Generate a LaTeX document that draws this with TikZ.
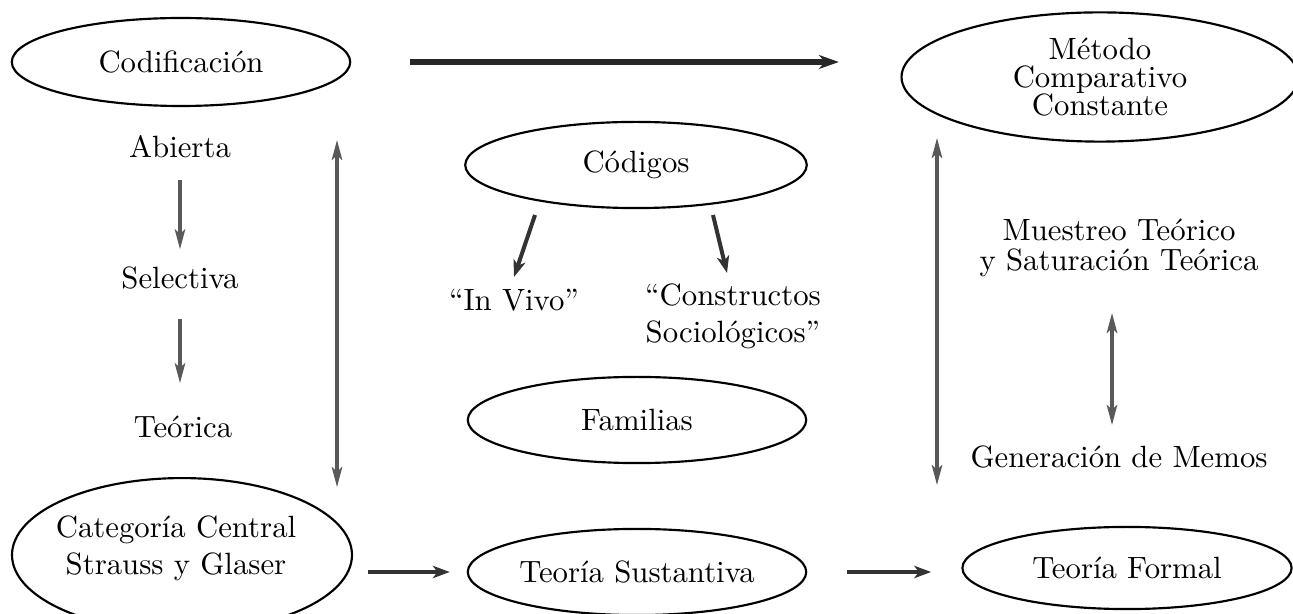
\documentclass[tikz,border=0pt]{standalone}
\usepackage{tikz}
\usetikzlibrary{shapes.geometric}
\usetikzlibrary{arrows.meta}
\tikzset{
    oval/.style={draw=black, line width=0.7pt, ellipse, inner sep=0pt, align=center},
    label/.style={inner sep=0pt, align=center},
    bigarrow/.style={draw=black!85, line width=1.7pt,
        -{Stealth[length=6.5pt, width=4.5pt, inset=2pt]}},
    flatarrow/.style={draw=black!80, line width=1.3pt,
        -{Stealth[length=5.5pt, width=4pt, inset=1.5pt]}},
    greyarrow/.style={draw=black!65, line width=1pt,
        -{Stealth[length=6.5pt, width=3.4pt, inset=1.5pt]}},
    twoway/.style={draw=black!65, line width=1pt,
        {Stealth[length=6.5pt, width=3.4pt, inset=1.5pt]}-{Stealth[length=6.5pt, width=3.4pt, inset=1.5pt]}}
}
\begin{document}
\begin{tikzpicture}[x=0.325pt, y=-0.325pt]
\useasboundingbox (0,0) rectangle (1293,614);

% ovals
\node[oval, minimum width=110pt, minimum height=28.6pt] (cod) at (181,62) {Codificaci\'on};
\node[oval, minimum width=129pt, minimum height=42pt] (met) at (1100,77)
  {M\'etodo\\[-3pt] Comparativo\\[-3pt] Constante};
\node[oval, minimum width=111pt, minimum height=28pt] (cdg) at (636,165) {C\'odigos};
\node[oval, minimum width=110pt, minimum height=28pt] (fam) at (637,420) {Familias};
\node[oval, minimum width=110pt, minimum height=28pt] (sus) at (637,572) {Teor\'ia Sustantiva};
\node[oval, minimum width=110.5pt, minimum height=50pt] (cat) at (182,555) {};
\node[label] (catx) at (176,548) {Categor\'ia Central\\ Strauss y Glaser};
\node[oval, minimum width=107pt, minimum height=26.7pt] (for) at (1127,568) {Teor\'ia Formal};

% plain texts
\node[label] (abi) at (180,147) {Abierta};
\node[label] (sel) at (180,278) {Selectiva};
\node[label] (teo) at (183,427) {Te\'orica};
\node[label] (viv) at (514,300) {``In Vivo''};
\node[label] (con) at (733,316) {``Constructos\\ Sociol\'ogicos''};
\node[label] (mue) at (1119,248) {Muestreo Te\'orico\\[-2pt] y Saturaci\'on Te\'orica};
\node[label] (gen) at (1119,457) {Generaci\'on de Memos};

\coordinate (cd1) at (337,140);
\coordinate (cd2) at (337,487);
\coordinate (mt1) at (937,138);
\coordinate (mt2) at (937,485);
\coordinate (mm1) at (1112,313);
\coordinate (mm2) at (1112,425);
\coordinate (iv1) at (535,215);
\coordinate (iv2) at (514,277);
\coordinate (cs1) at (713,215);
\coordinate (cs2) at (727,273);

\draw[style={bigarrow}, shorten <=19pt, shorten >=20pt]
  (cod.east) -- (cod.east -| met.west);
\draw[style={greyarrow}, shorten <=7pt, shorten >=5.5pt] (abi) -- (sel);
\draw[style={greyarrow}, shorten <=9.5pt, shorten >=10.5pt] (sel) -- (sel |- teo.north);
\draw[style={twoway}] (cd1) -- (cd2);
\draw[style={twoway}] (mt1) -- (mt2);
\draw[style={twoway}] (mm1) -- (mm2);
\draw[style={flatarrow}] (iv1) -- (iv2);
\draw[style={flatarrow}] (cs1) -- (cs2);
\draw[style={flatarrow}, shorten <=5pt, shorten >=5.5pt]
  (sus.west -| cat.east) -- (sus.west);
\draw[style={flatarrow}, shorten <=13pt, shorten >=9.8pt]
  (sus.east) -- (sus.east -| for.west);
\end{tikzpicture}
\end{document}
